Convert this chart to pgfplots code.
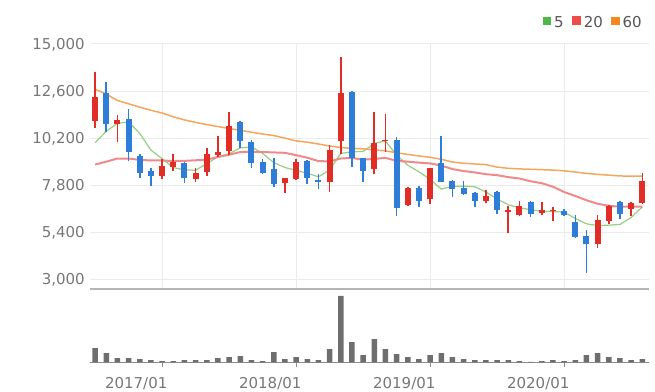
\documentclass[border=0pt]{standalone}
\usepackage{fontspec}
\setmainfont{DejaVu Sans}
\usepackage{pgfplots}
\usepackage{pgfplotstable}
\pgfplotsset{compat=1.18}
\definecolor{cred}{HTML}{E22D27}
\definecolor{cblue}{HTML}{2D7DD9}
\definecolor{cma5}{HTML}{93D07F}
\definecolor{cma20}{HTML}{F08A8A}
\definecolor{cma60}{HTML}{F5A65B}
\definecolor{clg5}{HTML}{4DB848}
\definecolor{clg20}{HTML}{F04B4B}
\definecolor{clg60}{HTML}{F5891F}
\definecolor{cvol}{HTML}{6E6E6E}
\definecolor{cgrid}{HTML}{EBEBEB}
\definecolor{csep}{HTML}{B4B4B4}
\definecolor{cbase}{HTML}{8C8C8C}
\definecolor{ctick}{HTML}{777777}
\definecolor{cleg}{HTML}{555555}

\pgfplotstableread{
i o h l c
0 11084 13586 10696 12309
2 10915 11375 9981 11119
6 8275 9128 8092 8771
7 8705 9383 8531 8960
9 8107 8684 7969 8429
10 8449 9705 8275 9399
11 9332 10318 9246 9501
12 9537 11513 9332 10813
17 7887 8160 7377 8143
18 8092 9128 8056 8960
21 7969 9830 7428 9588
22 10062 14352 9370 12513
25 8618 11513 8347 9961
26 10047 11410 9470 10098
28 6779 7683 6760 7632
30 7070 8684 6815 8653
35 6999 7545 6866 7239
37 6430 6728 5365 6531
38 6269 6999 6218 6728
40 6386 6948 6269 6509
41 6474 6692 5963 6530
45 4788 6269 4620 6040
46 5963 6779 5809 6728
48 6567 6948 6218 6897
49 6897 8398 6830 8011
}\uptable

\pgfplotstableread{
i o h l c
1 12483 13075 10491 10915
3 11155 11681 9026 9470
4 9281 9368 8173 8429
5 8515 8653 7765 8275
8 8909 8960 7887 8173
13 11017 11068 9674 10047
14 10012 10098 8653 8909
15 8960 9128 8362 8398
16 8618 9164 7714 7836
19 9042 9077 7836 8173
20 8056 8362 7581 7969
23 12565 12600 8705 9164
24 9164 9195 7969 8531
27 10098 10267 6218 6642
29 7663 7749 6692 6999
31 8909 10302 7950 7969
32 8005 8056 7203 7581
33 7663 8005 7300 7326
34 7377 7459 6662 6999
36 7428 7509 6311 6515
39 6948 6984 6182 6334
42 6487 6560 6225 6260
43 5927 6269 5110 5161
44 5196 5539 3343 4824
47 6948 6999 6064 6320
}\downtable

\pgfplotstableread{
i vol ma5 ma20 ma60
0 14.3 9960 8850 12690
1 9.3 10550 9000 12450
2 4.3 10950 9160 12120
3 4.3 11030 9160 11950
4 3.3 10440 9090 11780
5 2.3 9590 9060 11620
6 1.3 9150 9060 11480
7 1.3 8700 9030 11290
8 2.3 8580 9040 11130
9 2.3 8560 9070 11000
10 2.3 8900 9100 10890
11 4.3 9250 9240 10790
12 5.3 9400 9350 10690
13 6.3 9700 9490 10600
14 2.3 9760 9500 10500
15 1.3 9420 9490 10410
16 10.3 8950 9470 10330
17 3.3 8700 9450 10200
18 5.3 8560 9330 10060
19 3.3 8400 9200 9990
20 2.3 8230 9030 9900
21 13.3 8570 9010 9800
22 66.7 9420 9160 9720
23 20.3 9500 9190 9680
24 7.3 9520 9100 9650
25 23.3 9930 9140 9600
26 13.3 10050 9190 9550
27 8.3 9330 9040 9450
28 5.3 8820 9000 9370
29 3.3 8480 8950 9290
30 7.3 8100 8910 9220
31 9.3 7600 8800 9120
32 5.3 7750 8620 8980
33 3.3 7750 8520 8920
34 2.3 7720 8450 8880
35 2.3 7450 8360 8850
36 2.3 7100 8310 8720
37 2.3 6800 8210 8660
38 1.3 6650 8140 8630
39 0.6 6550 8000 8610
40 1.3 6470 7900 8590
41 2.3 6450 7720 8570
42 1.3 6430 7450 8530
43 2.3 6100 7250 8470
44 7.3 5830 7030 8400
45 9.3 5740 6850 8350
46 5.3 5760 6750 8310
47 4.3 5800 6700 8270
48 2.3 6150 6700 8260
49 3.3 6690 6700 8260
}\matable

\pgfplotsset{
  candle/.style 2 args={forget plot, draw=none, mark=none,
    error bars/.cd, y dir=plus, y explicit, error mark=none,
    error bar style={draw=#1, solid, line width=#2, line cap=butt}},
}

\begin{document}
\begin{tikzpicture}
\path[use as bounding box] (0,0) rectangle (655bp,392bp);
\begin{axis}[
  at={(89.5bp,103bp)}, anchor=south west,
  scale only axis, width=559.5bp, height=245bp,
  xmin=-0.5, xmax=49.6, ymin=2505, ymax=15000,
  axis lines*=left,
  x axis line style={draw=csep, line width=1.5bp},
  y axis line style={draw=none},
  scaled y ticks=false, scaled x ticks=false,
  xtick={6,18,30,42}, xticklabels={},
  ytick={3000,5400,7800,10200,12600,15000},
  yticklabels={{3,000},{5,400},{7,800},{10,200},{12,600},{15,000}},
  major tick length=0pt,
  xmajorgrids, ymajorgrids,
  grid style={draw=cgrid, line width=1bp},
  yticklabel style={anchor=base east, inner sep=0pt, xshift=-4.5bp, yshift=-5.4bp, font=\fontsize{15bp}{18bp}\selectfont, text=ctick},
  legend style={at={(1,1)}, anchor=east, xshift=-7.3bp, yshift=21.3bp, draw=none, fill=none, inner sep=0pt, outer sep=0pt,
    font=\fontsize{15bp}{18bp}\selectfont, text=cleg, nodes={inner sep=0pt},
    /tikz/every odd column/.append style={column sep=3bp},
    /tikz/every even column/.append style={column sep=8.5bp}},
  legend columns=3,
]
\addplot[color=cma5, line width=1.2bp, legend image code/.code={\fill[clg5] (0bp,-1.5bp) rectangle (6.7bp,5.2bp);}] table[x=i,y=ma5]{\matable};
\addlegendentry{5}
\addplot[color=cma20, line width=2bp, legend image code/.code={\fill[clg20] (0bp,-1.5bp) rectangle (6.7bp,5.2bp);}] table[x=i,y=ma20]{\matable};
\addlegendentry{20}
\addplot[color=cma60, line width=1.5bp, legend image code/.code={\fill[clg60] (0bp,-1.5bp) rectangle (6.7bp,5.2bp);}] table[x=i,y=ma60]{\matable};
\addlegendentry{60}
% wicks
\addplot[candle={cred}{1.6bp}] table[x=i, y=l, y error plus expr=\thisrow{h}-\thisrow{l}]{\uptable};
\addplot[candle={cblue}{1.6bp}] table[x=i, y=l, y error plus expr=\thisrow{h}-\thisrow{l}]{\downtable};
% bodies
\addplot[candle={cred}{6bp}] table[x=i, y=o, y error plus expr=\thisrow{c}-\thisrow{o}]{\uptable};
\addplot[candle={cblue}{6bp}] table[x=i, y=c, y error plus expr=\thisrow{o}-\thisrow{c}]{\downtable};
\end{axis}

\begin{axis}[
  at={(89.5bp,29.5bp)}, anchor=south west,
  scale only axis, width=559.5bp, height=73.5bp,
  xmin=-0.5, xmax=49.6, ymin=0, ymax=73.5,
  axis lines*=left,
  x axis line style={draw=cbase, line width=1.5bp},
  y axis line style={draw=none},
  ytick=\empty,
  xtick={6,18,30,42}, xticklabels={2017/01,2018/01,2019/01,2020/01},
  tick align=outside, major tick length=4bp,
  xtick style={draw=cbase, line width=1bp},
  xticklabel style={anchor=north east, inner sep=0pt, xshift=5.5bp, yshift=-10.5bp, font=\fontsize{15bp}{18bp}\selectfont, text=ctick},
]
\addplot[ybar, bar width=5.5bp, fill=cvol, draw=none] table[x=i,y=vol]{\matable};
\end{axis}
\end{tikzpicture}
\end{document}
